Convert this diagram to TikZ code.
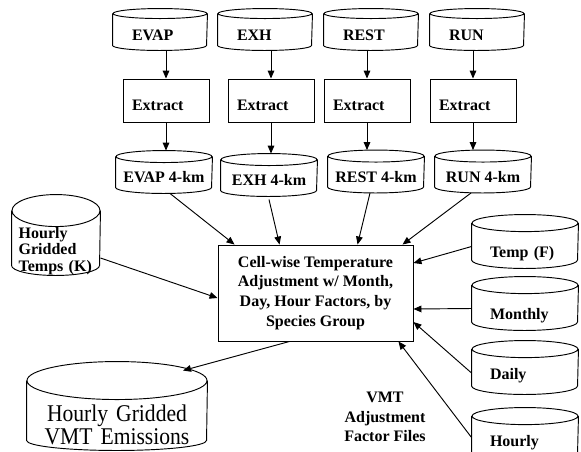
\documentclass[tikz,border=0pt]{standalone}
\usepackage{fontspec}
\setmainfont{Liberation Serif}
\newfontfamily\vmtfont[FakeStretch=0.9]{Liberation Serif}
\usetikzlibrary{arrows.meta,calc}

\begin{document}
\begin{tikzpicture}[x=0.75pt,y=-0.75pt,line width=0.7pt,
  db/.style={font=\bfseries\fontsize{12}{14.5}\selectfont,inner sep=1pt},
  topdb/.style={db,minimum width=70.5pt,minimum height=30.75pt,text width=42pt,align=left,text height=16.2pt,text depth=0pt},
  kmdb/.style={db,minimum width=72pt,minimum height=31.5pt,text height=16.2pt,text depth=0pt},
  factdb/.style={db,minimum width=79.5pt,minimum height=39.75pt,text width=52.5pt,align=left,text height=#1,text depth=0pt},
  extractbox/.style={draw,font=\bfseries\fontsize{12}{14.5}\selectfont,minimum width=64.5pt,minimum height=32.25pt,text width=51pt,align=left,text height=14.7pt,text depth=0pt},
  arr/.style={-{Triangle[length=6pt,width=5pt]}}]
\useasboundingbox (0,0) rectangle (581,451);
\node[topdb] (evap) at (160,29.5) {EVAP};
\node[topdb] (exh)  at (265,29.5) {EXH};
\node[topdb] (rest) at (371,29.5) {REST};
\node[topdb] (run)  at (477,29.5) {RUN};
\node[extractbox] (evapx) at (166,100.5) {Extract};
\node[extractbox] (exhx)  at (271,100.5) {Extract};
\node[extractbox] (restx) at (367,100.5) {Extract};
\node[extractbox] (runx)  at (473,100.5) {Extract};
\node[kmdb] (evap4) at (164,172) {EVAP 4-km};
\node[kmdb] (exh4)  at (269,175) {EXH 4-km};
\node[kmdb] (rest4) at (376,171.5) {REST 4-km};
\node[kmdb] (run4)  at (483,171.5) {RUN 4-km};
\node[draw,font=\bfseries\fontsize{12}{14.8}\selectfont,align=center,minimum width=146.25pt,minimum height=72pt] (adj) at (315.5,293)
  {Cell-wise Temperature\\Adjustment w/ Month,\\Day, Hour Factors, by\\Species Group};
\node[db,font=\bfseries\fontsize{12}{12.5}\selectfont,inner ysep=0pt,minimum width=66pt,minimum height=60pt,text width=56pt,align=left,text height=29.5pt,text depth=25pt] (temps) at (56,235) {Hourly\\Gridded\\Temps (K)};
\node[factdb=23.7pt] (tempf)   at (525,241.5) {Temp (F)};
\node[factdb=24.4pt] (monthly) at (525,303.5) {Monthly};
\node[factdb=17.7pt] (daily)   at (525,367.5) {Daily};
\node[factdb=17.7pt] (hourly)  at (525,434.5) {Hourly};
\node[db,font=\vmtfont\fontsize{18}{17.25}\selectfont,inner ysep=0pt,minimum width=135pt,minimum height=66pt,text width=125pt,align=center,text height=39.75pt,text depth=17.25pt] (vmt) at (117,406) {Hourly Gridded\\VMT Emissions};
\node[font=\bfseries\fontsize{12}{14.6}\selectfont,align=center] (vmtfiles) at (385,417) {VMT\\Adjustment\\Factor Files};
\foreach \n/\rx/\rt/\rb in {evap/35.25/3.75/3.75,exh/35.25/3.75/3.75,rest/35.25/3.75/3.75,run/35.25/3.75/3.75,
    evap4/36/4.5/4.5,exh4/36/4.5/4.5,rest4/36/4.5/4.5,run4/36/4.5/4.5,
    temps/33/12/7.5,tempf/39.75/6.4/6.4,monthly/39.75/6.4/6.4,daily/39.75/6.4/6.4,hourly/39.75/6.4/6.4,vmt/67.5/14.25/7.5}
  \draw ([yshift=-\rt pt]\n.north west) -- ([yshift=\rb pt]\n.south west)
    arc[start angle=180,end angle=360,x radius=\rx pt,y radius=\rb pt]
    -- ([yshift=-\rt pt]\n.north east)
    ([yshift=-\rt pt]\n.north) ellipse[x radius=\rx pt,y radius=\rt pt];
\foreach \a/\b/\c in {evap/evapx/evap4,exh/exhx/exh4,rest/restx/rest4,run/runx/run4}{
  \draw[arr] (\b.north |- \a.south) -- (\b.north);
  \draw[arr] (\b.south) -- (\b.south |- \c.north);
}
\draw[arr] ($(evap4.south)+(6,0)$) -- ($(adj.north west)+(17,0)$);
\draw[arr] ($(exh4.south)+(0,3)$) -- ($(adj.north west)+(62,0)$);
\draw[arr] ($(rest4.south)+(-6,0)$) -- ($(adj.north west)+(140,0)$);
\draw[arr] ($(run4.south)+(-12,0)$) -- ($(adj.north west)+(185,0)$);
\draw[arr] ($(temps.east)+(0,23)$) -- ($(adj.west)+(0,5)$);
\draw[arr] ($(tempf.west)+(0,5)$) -- ($(adj.east)+(0,-30)$);
\draw[arr] ($(monthly.west)+(0,5)$) -- ($(adj.east)+(0,16)$);
\draw[arr] ($(daily.west)+(0,5.5)$) -- ($(adj.east)+(0,29)$);
\draw[arr] ($(hourly.west)+(0,3)$) -- ($(adj.south east)+(-15,0)$);
\draw[arr] ($(adj.south west)+(72,0)$) -- ($(vmt.north)+(66,9)$);
\end{tikzpicture}
\end{document}
